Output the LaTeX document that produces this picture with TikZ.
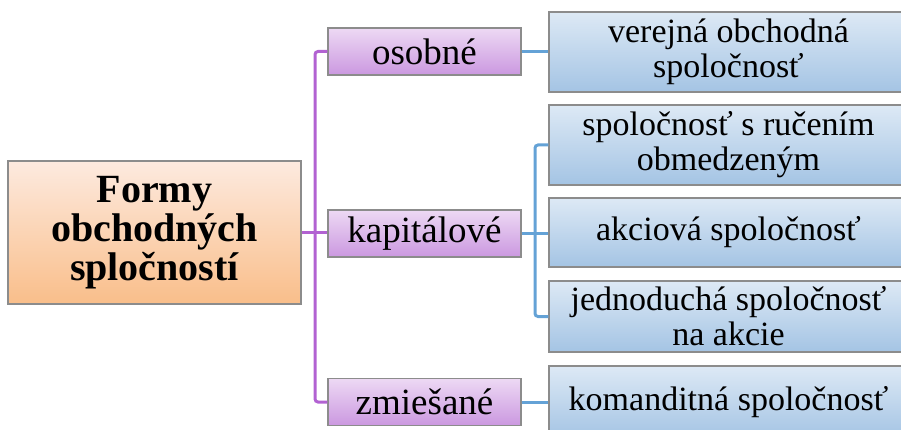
\documentclass[tikz,border=0pt]{standalone}
\usepackage{fontspec}
\setmainfont{LiberationSerif}[Extension=.ttf, UprightFont=*-Regular, BoldFont=*-Bold]
\definecolor{pline}{HTML}{B262D2}
\definecolor{bline}{HTML}{64A2D6}
\definecolor{bord}{HTML}{8C8C8C}
\definecolor{midtop}{HTML}{EDD9F4}
\definecolor{midbot}{HTML}{CB98E0}
\definecolor{rtop}{HTML}{DDE9F5}
\definecolor{rbot}{HTML}{A4C4E4}
\definecolor{roottop}{HTML}{FDEADF}
\definecolor{rootbot}{HTML}{F9BE8A}
\begin{document}
\begin{tikzpicture}[x=1pt,y=-1pt,
  boxbase/.style={draw=bord, line width=1.2pt, inner sep=0pt, align=center, text=black},
  rootbox/.style={boxbase, top color=roottop, bottom color=rootbot, minimum width=293pt, minimum height=143pt,
    font=\fontsize{40}{39}\selectfont\bfseries},
  midbox/.style={boxbase, top color=midtop, bottom color=midbot, minimum width=193pt, minimum height=47pt,
    font=\fontsize{37}{37}\selectfont},
  rbox/.style={boxbase, top color=rtop, bottom color=rbot, minimum width=359pt,
    font=\fontsize{34}{35}\selectfont},
  purpleline/.style={draw=pline, line width=3pt, rounded corners=3pt},
  blueline/.style={draw=bline, line width=3pt, rounded corners=3pt}]
\useasboundingbox (0,0) rectangle (901,430);
\clip (0,0) rectangle (901,430);

\node[rootbox] (root) at (154.5,232.5) {Formy\\obchodných\\spločností};

\node[midbox] (osob) at (424.5,51.5) {osobné};
\node[midbox] (kap) at (424.5,233.5) {kapitálové};
\node[midbox] (zmi) at (424.5,402) {zmiešané};

\node[rbox, minimum height=80pt] (vos) at (728.5,52) {verejná obchodná\\spoločnosť};
\node[rbox, minimum height=80pt] (sro) at (728.5,145) {spoločnosť s ručením\\obmedzeným};
\node[rbox, minimum height=69pt] (as) at (728.5,232.5) {akciová spoločnosť};
\node[rbox, minimum height=71pt] (jsa) at (728.5,316.5) {jednoduchá spoločnosť\\na akcie};
\node[rbox, minimum height=72pt] (ks) at (728.5,402) {komanditná spoločnosť};

\coordinate (pbus) at (315,0);
\coordinate (bbus) at (535,0);

\draw[purpleline] (osob.west) -- (osob.west -| pbus) |- (zmi.west);
\draw[purpleline] (root.east) -- (root.east -| kap.west);

\draw[blueline] (osob.east) -- (osob.east -| vos.west);
\draw[blueline] (kap.east) -- (kap.east -| as.west);
\draw[blueline] (sro.west) -- (sro.west -| bbus) |- (jsa.west);
\draw[blueline] (zmi.east) -- (zmi.east -| ks.west);
\end{tikzpicture}
\end{document}
